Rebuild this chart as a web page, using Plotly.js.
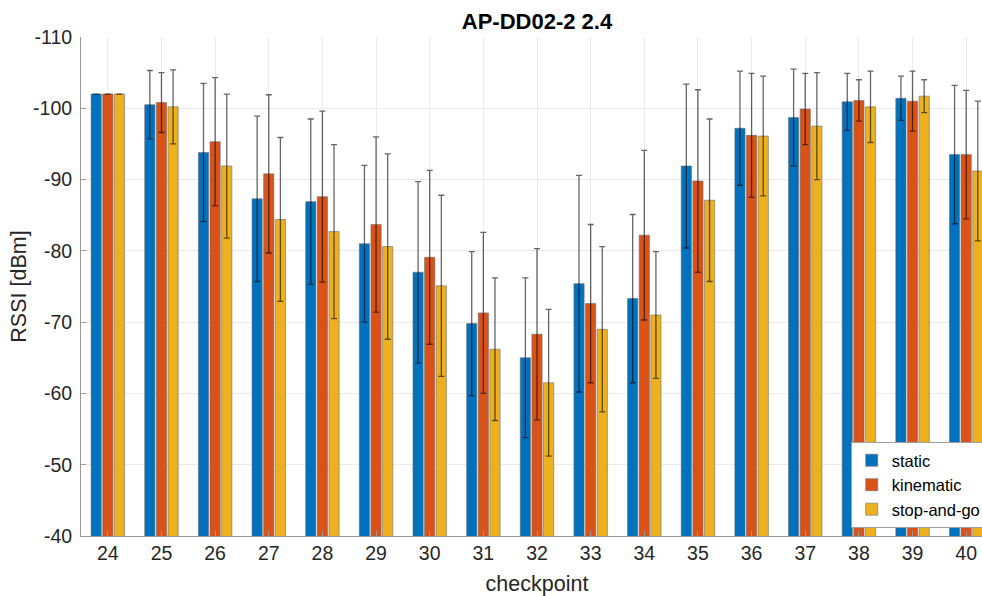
<!DOCTYPE html>
<html>
<head>
<meta charset="utf-8">
<script src="https://cdn.plot.ly/plotly-3.0.1.min.js"></script>
<style>
  html, body { margin: 0; padding: 0; background: #fff; overflow: hidden; }
  #chart { width: 1000px; height: 596px; }
</style>
</head>
<body>
<div id="chart"></div>
<script>
// Mean RSSI per checkpoint and its standard deviation, for each survey mode
const checkpoints = [24, 25, 26, 27, 28, 29, 30, 31, 32, 33, 34, 35, 36, 37, 38, 39, 40];

const staticMean    = [-102.0, -100.5, -93.8, -87.3, -86.9, -81.0, -77.0, -69.8, -65.0, -75.4, -73.3, -91.9, -97.2, -98.7, -100.9, -101.4, -93.5];
const staticStd     = [0, 4.8, 9.7, 11.6, 11.6, 11.0, 12.7, 10.1, 11.2, 15.2, 11.8, 11.5, 8.0, 6.8, 4.0, 3.1, 9.7];

const kinematicMean = [-102.0, -100.8, -95.3, -90.8, -87.6, -83.7, -79.1, -71.3, -68.3, -72.6, -82.2, -89.8, -96.2, -99.9, -101.1, -101.0, -93.5];
const kinematicStd  = [0, 4.2, 9.0, 11.1, 12.0, 12.3, 12.2, 11.3, 12.0, 11.1, 11.9, 12.8, 8.7, 5.0, 2.9, 4.2, 9.0];

const stopGoMean    = [-102.0, -100.2, -91.9, -84.4, -82.7, -80.6, -75.1, -66.2, -61.5, -69.0, -71.0, -87.1, -96.1, -97.5, -100.2, -101.7, -91.2];
const stopGoStd     = [0, 5.2, 10.1, 11.5, 12.2, 13.0, 12.7, 10.0, 10.3, 11.6, 8.9, 11.4, 8.4, 7.5, 5.0, 2.3, 9.8];

const seriesNames  = ['static', 'kinematic', 'stop-and-go'];
const seriesColors = ['#0072BD', '#D95319', '#EDB120'];
const yTicks       = [-110, -100, -90, -80, -70, -60, -50, -40];
const yTickLabels  = ['-110', '-100', '-90', '-80', '-70', '-60', '-50', '-40'];

const means = [staticMean, kinematicMean, stopGoMean];
const stds  = [staticStd, kinematicStd, stopGoStd];

const traces = seriesNames.map((name, i) => ({
  type: 'bar',
  name: name,
  x: checkpoints,
  y: means[i],
  marker: {
    color: seriesColors[i],
    line: { color: 'rgba(110,110,110,0.6)', width: 1 }
  },
  error_y: {
    type: 'data',
    array: stds[i],
    symmetric: true,
    visible: true,
    color: 'rgba(0,0,0,0.6)',
    thickness: 1.3,
    width: 3
  }
}));

const font = 'Liberation Sans, Arial, Helvetica, sans-serif';

const layout = {
  width: 1000,
  height: 596,
  margin: { l: 81, r: 7, t: 37, b: 60 },
  paper_bgcolor: '#fff',
  plot_bgcolor: '#fff',
  barmode: 'group',
  bargap: 0.35,
  bargroupgap: 0.12,
  font: { family: font, color: '#262626' },
  title: {
    text: '<b>AP-DD02-2 2.4</b>',
    font: { family: font, size: 22, color: '#000' },
    xref: 'paper', x: 0.5, xanchor: 'center',
    yref: 'container', y: 1 - 21 / 596, yanchor: 'middle'
  },
  xaxis: {
    range: [23.5, 40.5],
    tickvals: checkpoints,
    ticktext: checkpoints.map(String),
    tickfont: { size: 19.5, color: '#262626' },
    ticks: 'inside', ticklen: 5, tickcolor: '#9a9a9a',
    showline: true, linecolor: '#9a9a9a', linewidth: 1,
    showgrid: true, gridcolor: '#ebebeb', gridwidth: 1,
    zeroline: false,
    title: { text: 'checkpoint', font: { size: 21.5, color: '#262626' }, standoff: 12 }
  },
  yaxis: {
    range: [-40, -110],
    tickvals: yTicks,
    ticktext: yTickLabels,
    tickfont: { size: 19.5, color: '#262626' },
    ticks: 'inside', ticklen: 5, tickcolor: '#9a9a9a',
    ticklabelstandoff: 4,
    showline: true, linecolor: '#9a9a9a', linewidth: 1,
    showgrid: true, gridcolor: '#ebebeb', gridwidth: 1,
    zeroline: false,
    automargin: true,
    title: { text: 'RSSI [dBm]', font: { size: 21.5, color: '#262626' }, standoff: 0 }
  },
  legend: {
    x: 0.844, xanchor: 'left',
    y: 0.016, yanchor: 'bottom',
    bgcolor: '#fff',
    bordercolor: '#a0a0a0',
    borderwidth: 1,
    font: { size: 16.5, color: '#000' },
    tracegroupgap: 0
  },
  showlegend: true
};

Plotly.newPlot('chart', traces, layout, { staticPlot: true, displayModeBar: false });
</script>
</body>
</html>
